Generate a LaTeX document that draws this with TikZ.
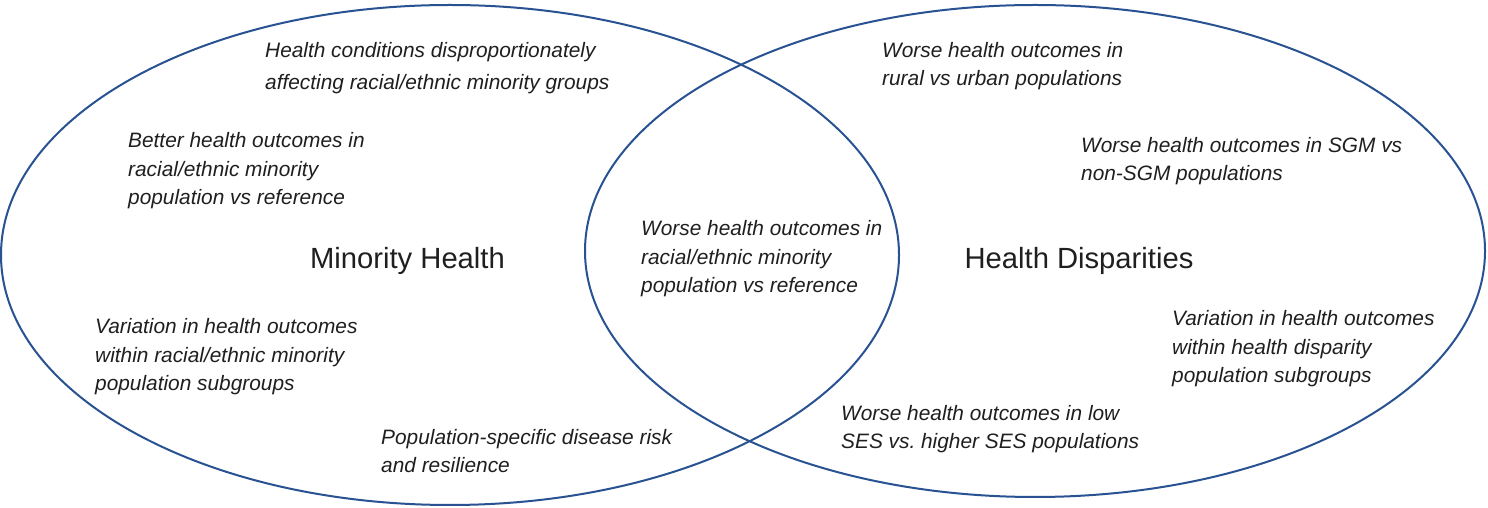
\documentclass[tikz,border=0pt]{standalone}
\usepackage{fontspec}
\setmainfont{Liberation Sans}
\definecolor{ringblue}{RGB}{40,82,145}
\begin{document}
\begin{tikzpicture}[x=1pt,y=1pt,
  ring/.style={draw=ringblue,line width=2pt},
  note/.style={anchor=west,align=left,inner sep=0pt,font=\fontsize{20.85}{28.5}\selectfont\itshape,text=black!88},
  notewide/.style={note,font=\fontsize{20.85}{32}\selectfont\itshape},
  title/.style={anchor=center,inner sep=0pt,font=\fontsize{29.2}{34}\selectfont,text=black!88}]
\fill[white] (0,0) rectangle (1488,508);
\useasboundingbox (0,0) rectangle (1488,508);
\draw[ring] (450,253) ellipse [x radius=449,y radius=250];
\draw[ring] (1035,257) ellipse [x radius=450,y radius=246];
% left set
\node[notewide] (tl) at (265,440) {Health conditions disproportionately\\affecting racial/ethnic minority groups};
\node[note] (better) at (128,337) {Better health outcomes in\\racial/ethnic minority\\population vs reference};
\node[title] (mh) at (407.5,247) {Minority Health};
\node[note] (varl) at (95,151) {Variation in health outcomes\\within racial/ethnic minority\\population subgroups};
\node[note] (pop) at (381,57) {Population-specific disease risk\\and resilience};
% overlap
\node[note] (mid) at (641,249) {Worse health outcomes in\\racial/ethnic minority\\population vs reference};
% right set
\node[note] (rural) at (882,442) {Worse health outcomes in\\rural vs urban populations};
\node[note] (sgm) at (1081,347) {Worse health outcomes in SGM vs\\non-SGM populations};
\node[title] (hd) at (1079,247) {Health Disparities};
\node[note] (varr) at (1172,159) {Variation in health outcomes\\within health disparity\\population subgroups};
\node[note] (ses) at (841,79) {Worse health outcomes in low\\SES vs.\ higher SES populations};
\end{tikzpicture}
\end{document}
